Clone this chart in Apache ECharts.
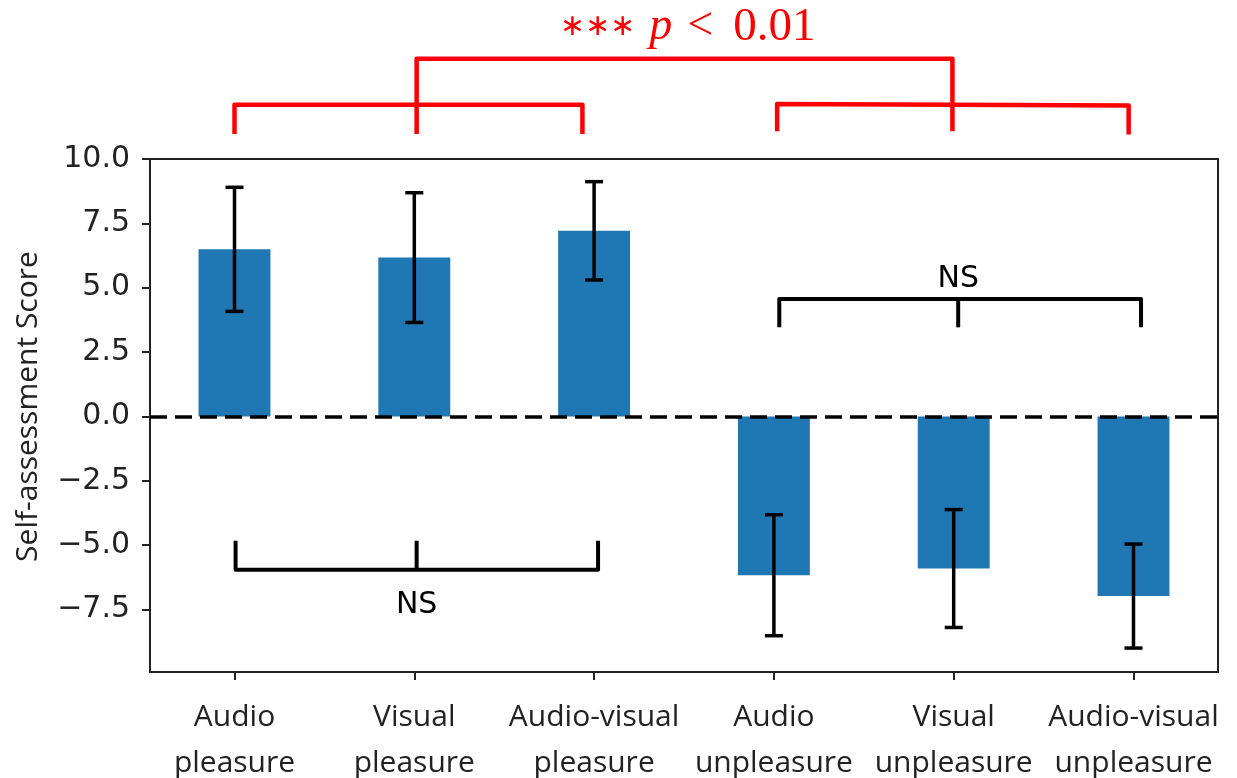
<!DOCTYPE html>
<html>
<head>
<meta charset="utf-8">
<script src="https://cdn.jsdelivr.net/npm/echarts@6/dist/echarts.min.js"></script>
<style>
  html, body { margin: 0; padding: 0; background: #ffffff; }
  #chart { width: 1237px; height: 778px; }
</style>
</head>
<body>
<div id="chart"></div>
<script>
// Condition labels, one bar per condition
const categories = [
  'Audio\npleasure', 'Visual\npleasure', 'Audio-visual\npleasure',
  'Audio\nunpleasure', 'Visual\nunpleasure', 'Audio-visual\nunpleasure'
];
// Mean self-assessment score per condition
const means = [6.49, 6.17, 7.21, -6.17, -5.91, -6.98];
// Symmetric error (± half-length of the error bar)
const errors = [2.41, 2.52, 1.91, 2.35, 2.29, 2.02];
// Axis ticks
const xTicks = [0, 1, 2, 3, 4, 5];
const yTicks = [-7.5, -5.0, -2.5, 0.0, 2.5, 5.0, 7.5, 10.0];

// Significance brackets (data coordinates: x = condition index, y = score)
const redBrackets = [
  [[0.0, 10.97], [0.0, 12.11], [1.935, 12.11], [1.935, 10.97]],
  [[1.013, 10.97], [1.013, 13.89], [3.993, 13.89], [3.993, 11.08]],
  [[3.018, 11.08], [3.018, 12.14], [4.973, 12.08], [4.973, 10.95]]
];
const redLabel = { x: 2.52, y: 15.12 };
const nsBrackets = [
  { ends: [0.006, 1.013, 2.022], tip: -4.83, base: -5.96, labelY: -7.34 },
  { ends: [3.03, 4.025, 5.042], tip: 3.46, base: 4.56, labelY: 5.33 }
];

const BAR_HALF = 0.2;
const chart = echarts.init(document.getElementById('chart'), null, { renderer: 'canvas' });

const tickFont = 'DejaVu Sans';
const labelFont = 'Open Sans';

function fmtY(v) {
  const s = Math.abs(v).toFixed(1);
  return v < 0 ? '\u2212' + s : s;
}

const red = '#ff0000';

const option = {
  animation: false,
  backgroundColor: '#ffffff',
  grid: {
    left: 150, right: 19, top: 159, bottom: 106,
    outerBoundsMode: 'none',
    containLabel: false,
    show: true, borderColor: '#222222', borderWidth: 2, backgroundColor: 'transparent'
  },
  xAxis: {
    type: 'value',
    min: -0.47, max: 5.47,
    splitLine: { show: false },
    axisLine: { show: false, onZero: false },
    axisTick: { show: true, length: 8, lineStyle: { color: '#222', width: 2 }, customValues: xTicks },
    axisLabel: {
      customValues: xTicks,
      formatter: (v) => categories[Math.round(v)],
      fontFamily: labelFont, fontSize: 30, color: '#222', lineHeight: 46, margin: 22
    }
  },
  yAxis: {
    type: 'value',
    min: -9.93, max: 10.0,
    name: 'Self-assessment Score',
    nameLocation: 'middle',
    nameGap: 107,
    nameTextStyle: { fontFamily: labelFont, fontSize: 30, color: '#222', padding: [0, 0, 0, 18] },
    splitLine: { show: false },
    axisLine: { show: false, onZero: false },
    axisTick: { show: true, length: 8, lineStyle: { color: '#222', width: 2 }, customValues: yTicks },
    axisLabel: {
      customValues: yTicks,
      formatter: fmtY,
      fontFamily: tickFont, fontSize: 30, color: '#222', margin: 20
    }
  },
  series: [
    {
      // bars
      type: 'custom',
      z: 2,
      encode: { x: 0, y: 1 },
      data: means.map((m, i) => [xTicks[i], m]),
      renderItem: (params, api) => {
        const x = api.value(0), v = api.value(1);
        const a = api.coord([x - BAR_HALF, 0]);
        const b = api.coord([x + BAR_HALF, v]);
        return {
          type: 'rect',
          shape: { x: a[0], y: Math.min(a[1], b[1]), width: b[0] - a[0], height: Math.abs(b[1] - a[1]) },
          style: { fill: '#1f77b4' }
        };
      }
    },
    {
      // error bars
      type: 'custom',
      z: 3,
      encode: { x: 0, y: [1, 2] },
      data: means.map((m, i) => [xTicks[i], m - errors[i], m + errors[i]]),
      renderItem: (params, api) => {
        const x = api.value(0);
        const lo = api.coord([x, api.value(1)]);
        const hi = api.coord([x, api.value(2)]);
        const cap = 9;
        const st = { stroke: '#000', lineWidth: 3.5 };
        return {
          type: 'group',
          children: [
            { type: 'line', shape: { x1: lo[0], y1: lo[1], x2: hi[0], y2: hi[1] }, style: st },
            { type: 'line', shape: { x1: lo[0] - cap, y1: lo[1], x2: lo[0] + cap, y2: lo[1] }, style: st },
            { type: 'line', shape: { x1: hi[0] - cap, y1: hi[1], x2: hi[0] + cap, y2: hi[1] }, style: st }
          ]
        };
      }
    },
    {
      // zero reference line
      type: 'line',
      z: 4,
      data: [],
      markLine: {
        silent: true,
        symbol: ['none', 'none'],
        label: { show: false },
        lineStyle: { color: '#000', width: 3.5, type: [17, 8] },
        data: [{ yAxis: 0 }]
      }
    },
    {
      // significance annotations
      type: 'custom',
      z: 5,
      clip: false,
      data: [[0, 0]],
      renderItem: (params, api) => {
        const children = [];
        redBrackets.forEach((pts) => {
          children.push({
            type: 'polyline',
            shape: { points: pts.map((p) => api.coord(p)) },
            style: { stroke: red, lineWidth: 4.5, fill: null, lineJoin: 'round' }
          });
        });
        const lp = api.coord([redLabel.x, redLabel.y]);
        children.push({
          type: 'text',
          x: lp[0], y: lp[1],
          style: {
            text: '{s|\u2217\u2217\u2217}{p|p}{l|<}{o|0.01}',
            align: 'center', verticalAlign: 'middle',
            textAlign: 'center', textVerticalAlign: 'middle',
            rich: {
              s: { fontFamily: 'DejaVu Sans', fontSize: 30, fill: red, color: red, padding: [0, 14, 0, 0], lineHeight: 50 },
              p: { fontFamily: 'Liberation Serif', fontStyle: 'italic', fontSize: 46, fill: red, color: red, padding: [0, 15, 0, 0], lineHeight: 50 },
              l: { fontFamily: 'Liberation Serif', fontSize: 46, fill: red, color: red, padding: [0, 20, 0, 0], lineHeight: 50 },
              o: { fontFamily: 'Liberation Serif', fontSize: 47, fill: red, color: red, lineHeight: 50 }
            }
          }
        });
        nsBrackets.forEach((b) => {
          const [x0, x1, x2] = b.ends;
          children.push({
            type: 'polyline',
            shape: { points: [[x0, b.tip], [x0, b.base], [x2, b.base], [x2, b.tip]].map((p) => api.coord(p)) },
            style: { stroke: '#000', lineWidth: 4, fill: null, lineJoin: 'round' }
          });
          children.push({
            type: 'polyline',
            shape: { points: [[x1, b.tip], [x1, b.base]].map((p) => api.coord(p)) },
            style: { stroke: '#000', lineWidth: 4, fill: null }
          });
          const tp = api.coord([x1, b.labelY]);
          children.push({
            type: 'text',
            x: tp[0], y: tp[1],
            style: {
              text: 'NS', fontFamily: 'DejaVu Sans', fontSize: 30, fill: '#000',
              align: 'center', verticalAlign: 'middle', textAlign: 'center', textVerticalAlign: 'middle'
            }
          });
        });
        return { type: 'group', children };
      }
    }
  ]
};

chart.setOption(option);
</script>
</body>
</html>
